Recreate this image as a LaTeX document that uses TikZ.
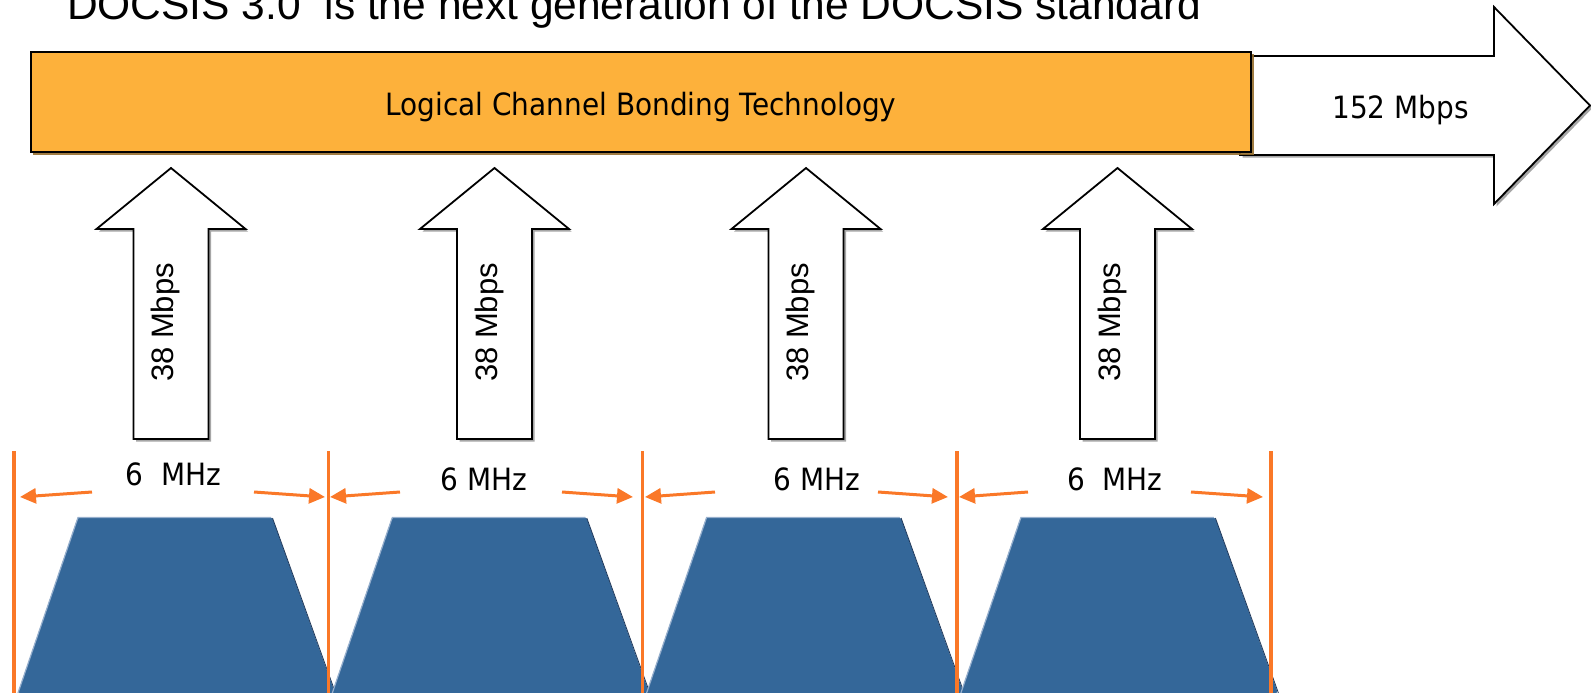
\documentclass[tikz,border=0pt]{standalone}
\usepackage{fontspec}
\setmainfont{Liberation Sans}
\newfontfamily\tahfont[FakeStretch=0.91]{DejaVu Sans}
\usetikzlibrary{arrows.meta,shadows}
\definecolor{barorange}{RGB}{253,177,59}
\definecolor{lineorange}{RGB}{250,120,40}
\definecolor{chanblue}{RGB}{52,103,153}
\definecolor{chanlight}{RGB}{150,175,205}
\definecolor{chandark}{RGB}{30,55,90}
\definecolor{barshadow}{RGB}{150,110,45}
\tikzset{
  titletext/.style={inner sep=0pt, font=\fontsize{42.5}{50}\selectfont},
  tahtext/.style={inner sep=0pt, font=\tahfont\fontsize{30.7}{36}\selectfont},
  ratetext/.style={inner sep=0pt, font=\fontsize{31}{36}\selectfont},
  barbox/.style={draw=black, line width=2pt, fill=barorange, inner sep=0pt,
    drop shadow={shadow xshift=2.5pt, shadow yshift=-2.5pt, fill=barshadow, opacity=0.9}},
  blockarrow/.style={draw=black, line width=1.8pt, fill=white, line join=miter,
    drop shadow={shadow xshift=2.5pt, shadow yshift=-2.5pt, fill=black!35, opacity=1}},
  chanshape/.style={fill=chanblue, rounded corners=2pt},
  vline/.style={draw=lineorange, line width=3.5pt},
  dimarrow/.style={draw=lineorange, line width=3pt, -{Triangle[length=16pt,width=15pt]}},
}
\begin{document}
\begin{tikzpicture}[x=1pt,y=-1pt]
\path[use as bounding box] (0,0) rectangle (1591,693);
\clip (0,0) rectangle (1591,693);

% title
\node[titletext, anchor=base west] (title) at (67,20) {DOCSIS 3.0\ \ is the next generation of the DOCSIS standard};

% big output arrow
\path[blockarrow] (1240,56) -- (1494,56) -- (1494,7) -- (1590,105.5) -- (1494,204) -- (1494,155) -- (1240,155) -- cycle;
\node[tahtext, anchor=base] (out) at (1400.5,118) {152 Mbps};

% bonding bar
\node[barbox, minimum width=1220.3pt, minimum height=100.3pt] (bar) at (640.85,101.85) {};
\node[tahtext, anchor=base] (bartext) at (641,115) {Logical Channel Bonding Technology};

% channel arrows
\foreach \cx/\nm in {171/a1, 494.5/a2, 806/a3, 1117.5/a4} {
  \path[blockarrow] ({\cx-37.5},439) -- ({\cx-37.5},229) -- ({\cx-74.5},229) -- (\cx,168)
     -- ({\cx+74.5},229) -- ({\cx+37.5},229) -- ({\cx+37.5},439) -- cycle;
  \node[ratetext, rotate=90] (\nm) at ({\cx-5.5},322.5) {38 Mbps};
}

% channel spectra
\foreach \L in {14, 328.3, 642.6, 956.9} {
  \path[chanshape] ({\L+4},693) -- ({\L+64},517) -- ({\L+258},517) -- ({\L+321},693) -- cycle;
  \draw[chanlight, line width=1.2pt] ({\L+4},693) -- ({\L+64},517.5) -- ({\L+257},517.5);
  \draw[chandark, line width=0.8pt] ({\L+258.5},518) -- ({\L+321.5},693);
}

% channel boundaries
\foreach \L/\nm in {14/b0, 328.3/b1, 642.6/b2, 956.9/b3, 1271.2/b4} {
  \coordinate (\nm top) at (\L,451);
  \coordinate (\nm bot) at (\L,693);
  \draw[vline] (\nm top) -- (\nm bot);
}

% bandwidth labels
\node[tahtext, anchor=base] (w1) at (173.5,485) {6\ \ MHz};
\node[tahtext, anchor=base] (w2) at (484,490) {6 MHz};
\node[tahtext, anchor=base] (w3) at (817,490) {6 MHz};
\node[tahtext, anchor=base] (w4) at (1115,490) {6\ \ MHz};

% dimension arrows
\coordinate (l1s) at (92,492);   \coordinate (l1e) at (20,497);
\coordinate (r1s) at (254,492);  \coordinate (r1e) at (325,497);
\coordinate (l2s) at (400,492);  \coordinate (l2e) at (330,497);
\coordinate (r2s) at (562,492);  \coordinate (r2e) at (633,497);
\coordinate (l3s) at (715,492);  \coordinate (l3e) at (645,497);
\coordinate (r3s) at (878,492);  \coordinate (r3e) at (948,497);
\coordinate (l4s) at (1028,492); \coordinate (l4e) at (959,497);
\coordinate (r4s) at (1191,492); \coordinate (r4e) at (1263,497);
\foreach \n in {1,2,3,4} {
  \draw[dimarrow] (l\n s) -- (l\n e);
  \draw[dimarrow] (r\n s) -- (r\n e);
}
\end{tikzpicture}
\end{document}
